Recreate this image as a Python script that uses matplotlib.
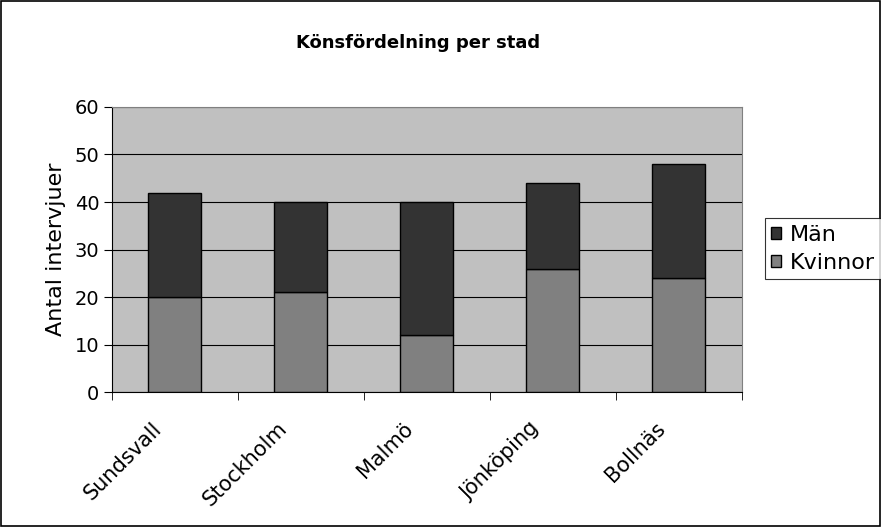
import numpy as np
import matplotlib.pyplot as plt
from matplotlib.patches import Rectangle

# antal intervjuer per stad och kön
stader = ["Sundsvall", "Stockholm", "Malmö", "Jönköping", "Bollnäs"]
kvinnor = [20, 21, 12, 26, 24]
man = [22, 19, 28, 18, 24]

plt.rcParams['font.family'] = ['DejaVu Sans']

fig = plt.figure(figsize=(8.81, 5.27), dpi=100)
ax = fig.add_axes([0.127, 0.256, 0.715, 0.541])

x = np.arange(len(stader))
width = 0.42

ax.bar(x, kvinnor, width, color='#808080', edgecolor='black', linewidth=1, label='Kvinnor', zorder=3)
ax.bar(x, man, width, bottom=kvinnor, color='#333333', edgecolor='black', linewidth=1, label='Män', zorder=3)

ax.set_facecolor('#c0c0c0')
ax.set_xlim(-0.5, len(stader) - 0.5)
ax.set_ylim(0, 60)
ax.set_yticks(range(0, 61, 10))
ax.yaxis.grid(True, color='black', linewidth=0.8, zorder=1)
ax.tick_params(axis='y', labelsize=14, length=6, direction='out', pad=3)

# kategorinamn lite till vänster om mitten, streck mellan grupperna
ax.set_xticks(x - 0.19)
ax.set_xticklabels(stader, rotation=45, ha='right', va='top', rotation_mode='anchor', fontsize=15)
ax.tick_params(axis='x', length=0, pad=19)
ax.set_xticks(np.arange(-0.5, len(stader)), minor=True)
ax.tick_params(axis='x', which='minor', length=6, direction='out')

for s in ['top', 'right']:
    ax.spines[s].set_color('#808080')
for s in ['left', 'bottom']:
    ax.spines[s].set_color('black')

ax.set_ylabel("Antal intervjuer", fontsize=16, labelpad=6)
fig.text(0.475, 0.918, "Könsfördelning per stad", ha='center', va='center',
         fontsize=13, fontweight='bold')

h, l = ax.get_legend_handles_labels()
leg = fig.legend(h[::-1], l[::-1], loc='center left', bbox_to_anchor=(0.868, 0.528),
                 fontsize=16, frameon=True, fancybox=False, edgecolor='black',
                 handlelength=0.45, handleheight=0.45, handletextpad=0.4,
                 borderpad=0.3, labelspacing=0.35, borderaxespad=0)
leg.get_frame().set_linewidth(0.8)

fig.patches.append(Rectangle((0.001, 0.001), 0.998, 0.997, transform=fig.transFigure,
                             fill=False, edgecolor='black', linewidth=1.2))

fig.savefig('out.png', dpi=100)
